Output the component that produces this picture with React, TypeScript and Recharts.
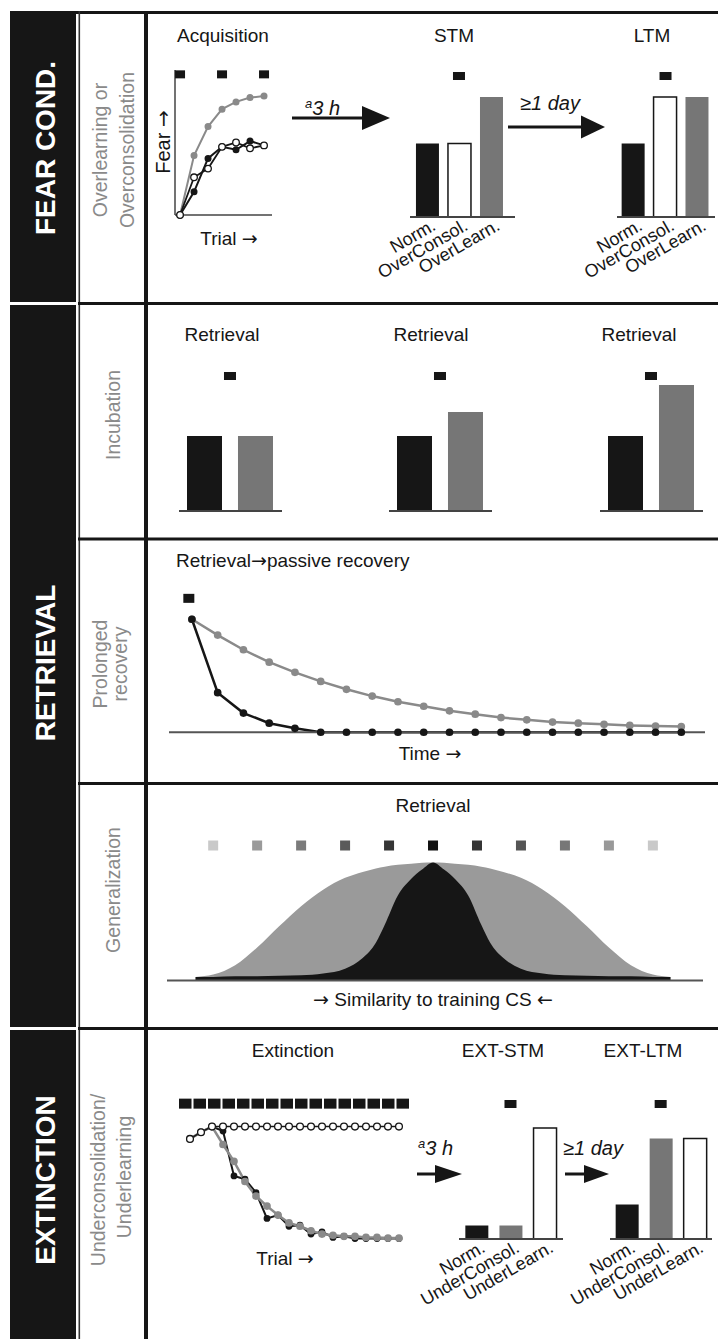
import React from "react";
import {
  ComposedChart,
  Line,
  Bar,
  Cell,
  Area,
  Scatter,
  XAxis,
  YAxis,
  ReferenceDot,
  ReferenceLine,
} from "recharts";

const FONT = "'Liberation Sans', Arial, Helvetica, sans-serif";
const ARROW_FONT = "'DejaVu Sans', sans-serif";
const INK = "#161616";
const GREY_LINE = "#8a8a8a";
const GREY_BAR = "#767676";
const GREY_AREA = "#9a9a9a";
const LABEL_GREY = "#8a8a8a";
const WHITE = "#ffffff";

// --- fear conditioning: acquisition curves
const acqTrials = [0, 1, 2, 3, 4, 5, 6];
const acqNorm = [0, 16, 39, 47, 45, 51, 48];
const acqOverConsol = [0, 26, 32, 47, 50, 46, 48];
const acqOverLearn = [0, 41, 61, 73, 78, 81, 82];
const acqCSTrials = [0, 3, 6];

// --- STM / LTM tests
const overGroups = ["Norm.", "OverConsol.", "OverLearn."];
const overColors = [INK, WHITE, GREY_BAR];
const stmValues = [49, 49, 80];
const ltmValues = [49, 80, 80];

// --- incubation
const incubColors = [INK, GREY_BAR];
const incubRet1 = [50, 50];
const incubRet2 = [50, 66];
const incubRet3 = [50, 84];

// --- prolonged recovery
const recoveryTime = [0, 1, 2, 3, 4, 5, 6, 7, 8, 9, 10, 11, 12, 13, 14, 15, 16, 17, 18, 19];
const recoveryNorm = [100, 35, 17, 8, 3.5, 0, 0, 0, 0, 0, 0, 0, 0, 0, 0, 0, 0, 0, 0, 0];
const recoveryProlonged = [100, 86, 73, 62, 53, 45, 38, 32, 27, 23, 19, 16, 13, 11, 9, 8, 7, 6, 5.5, 5];

// --- generalization
const simX = [-5.4, -5, -4.5, -4, -3.5, -3, -2.5, -2, -1.6, -1.3, -1.1, -0.8, -0.5, -0.25, 0,
  0.25, 0.5, 0.8, 1.1, 1.3, 1.6, 2, 2.5, 3, 3.5, 4, 4.5, 5, 5.4];
const genBroad = [0.03, 0.05, 0.13, 0.28, 0.46, 0.63, 0.77, 0.87, 0.92, 0.95, 0.965, 0.98, 0.99, 0.997, 1,
  0.997, 0.99, 0.98, 0.965, 0.95, 0.92, 0.87, 0.77, 0.63, 0.46, 0.28, 0.13, 0.05, 0.03];
const genNarrow = [0.03, 0.03, 0.035, 0.035, 0.04, 0.045, 0.06, 0.1, 0.19, 0.32, 0.47, 0.72, 0.86, 0.94, 1,
  0.94, 0.86, 0.72, 0.47, 0.32, 0.19, 0.1, 0.06, 0.045, 0.04, 0.035, 0.035, 0.03, 0.03];
const genCSPos = [-5, -4, -3, -2, -1, 0, 1, 2, 3, 4, 5];
const genCSShade = ["#c9c9c9", "#9a9a9a", "#7b7b7b", "#5a5a5a", "#353535", "#111111",
  "#353535", "#555555", "#777777", "#999999", "#c9c9c9"];

// --- extinction
const extTrials = [0, 1, 2, 3, 4, 5, 6, 7, 8, 9, 10, 11, 12, 13, 14, 15, 16, 17, 18, 19];
const extNorm = [89, 95, 100, 96, 56, 53, 41, 18, 21, 11, 12, 4, 6, 1, 2, 0, 0, 0, 0, 0];
const extUnderConsol = [89, 95, 100, 84, 69, 51, 38, 29, 21, 14, 11, 7, 4, 3, 2, 2, 1, 1, 0.5, 0.5];
const extUnderLearn = [89, 95, 100, 100, 100, 100, 100, 100, 100, 100, 100, 100, 100, 100, 100, 100, 100, 100, 100, 100];
const extTickTrials = [0, 2, 4, 6, 8, 10, 12, 14, 16, 18];
const extCSTrials = [0, 1, 2, 3, 4, 5, 6, 7, 8, 9, 10, 11, 12, 13, 14, 15];
const underGroups = ["Norm.", "UnderConsol.", "UnderLearn."];
const underColors = [INK, GREY_BAR, WHITE];
const extStmValues = [9, 9, 74];
const extLtmValues = [23, 67, 67];

type Pad = { l: number; r: number; t: number; b: number };

// position a chart so that its plot area lands on (left, top, w, h)
function frame(left: number, top: number, w: number, h: number, pad: Pad) {
  return {
    style: { position: "absolute" as const, left: left - pad.l, top: top - pad.t },
    width: w + pad.l + pad.r,
    height: h + pad.t + pad.b,
    margin: { top: pad.t, right: pad.r, left: pad.l, bottom: 0 },
    xh: pad.b,
  };
}

const csSquare = (w: number, h: number) => (p: any) => (
  <rect x={p.cx - w / 2} y={p.cy - h / 2} width={w} height={h} fill={p.payload?.shade ?? INK} />
);

const SlantTick = (props: any) => {
  const { x, y, payload, labels } = props;
  const label = labels[payload.value];
  if (!label) return null;
  const ax = x + 10;
  const ay = y + 12;
  return (
    <text x={ax} y={ay} transform={`rotate(-30 ${ax} ${ay})`} textAnchor="end"
      fontSize={18} fontFamily={FONT} fill={INK}>
      {label}
    </text>
  );
};

type BarsProps = {
  left: number;
  top: number;
  w: number;
  values: number[];
  colors: string[];
  labels?: string[];
  xDomain: [number, number];
  barSize: number;
  cs: number;
};

function GroupBars({ left, top, w, values, colors, labels, xDomain, barSize, cs }: BarsProps) {
  const f = frame(left, top, w, 150, { l: 90, r: 30, t: 20, b: labels ? 80 : 10 });
  const data = values.map((v, i) => ({ i, v }));
  const ticks = values.map((_, i) => i);
  return (
    <div style={f.style}>
      <ComposedChart width={f.width} height={f.height} margin={f.margin} data={data}>
        <XAxis type="number" dataKey="i" domain={xDomain} ticks={ticks} tickCount={values.length}
          interval={0} height={f.xh} axisLine={{ stroke: "#444", strokeWidth: 2 }}
          tickLine={false} tickSize={0} tickMargin={0}
          tick={labels ? (p: any) => <SlantTick {...p} labels={labels} /> : false} />
        <YAxis hide domain={[0, 100]} />
        <Bar dataKey="v" barSize={barSize} isAnimationActive={false}>
          {values.map((_, k) => (
            <Cell key={k} fill={colors[k]} stroke={colors[k] === WHITE ? INK : colors[k]}
              strokeWidth={colors[k] === WHITE ? 1.5 : 0} />
          ))}
        </Bar>
        <ReferenceDot x={(values.length - 1) / 2} y={cs} shape={csSquare(12, 8)} />
      </ComposedChart>
    </div>
  );
}

function Acquisition() {
  const f = frame(175, 70, 97, 145, { l: 10, r: 10, t: 10, b: 10 });
  const data = acqTrials.map((t, i) => ({ t, norm: acqNorm[i], oc: acqOverConsol[i], ol: acqOverLearn[i] }));
  const cs = acqCSTrials.map((t) => ({ t, y: 97 }));
  const xDomain: [number, number] = [-0.36, 6.57];
  return (
    <div style={f.style}>
      <ComposedChart width={f.width} height={f.height} margin={f.margin} data={data}>
        <XAxis type="number" dataKey="t" domain={xDomain} ticks={[0, 3, 6]} height={f.xh}
          axisLine={{ stroke: "#444", strokeWidth: 1.5 }} tickLine={{ stroke: "#444" }} tickSize={4} tick={false} />
        <YAxis hide domain={[0, 100]} />
        <ReferenceLine x={xDomain[0]} stroke="#444" strokeWidth={1.5} ifOverflow="visible" />
        <Line dataKey="ol" stroke={GREY_LINE} strokeWidth={2} isAnimationActive={false}
          dot={{ r: 2.5, fill: GREY_LINE, stroke: GREY_LINE }} />
        <Line dataKey="norm" stroke={INK} strokeWidth={2} isAnimationActive={false}
          dot={{ r: 2.5, fill: INK, stroke: INK }} />
        <Line dataKey="oc" stroke={INK} strokeWidth={1.8} isAnimationActive={false}
          dot={{ r: 3.3, fill: WHITE, stroke: INK, strokeWidth: 1.3 }} />
        <Scatter data={cs} dataKey="y" isAnimationActive={false} shape={csSquare(10, 8)} />
      </ComposedChart>
    </div>
  );
}

function Recovery() {
  const f = frame(169, 590.75, 536, 141.25, { l: 10, r: 10, t: 10, b: 10 });
  const data = recoveryTime.map((t, i) => ({ t, norm: recoveryNorm[i], pro: recoveryProlonged[i] }));
  return (
    <div style={f.style}>
      <ComposedChart width={f.width} height={f.height} margin={f.margin} data={data}>
        <XAxis type="number" dataKey="t" domain={[-0.89, 19.92]} ticks={[0]} height={f.xh}
          axisLine={{ stroke: "#555", strokeWidth: 2 }} tickLine={{ stroke: "#555" }} tickSize={5} tick={false} />
        <YAxis hide domain={[0, 125]} />
        <Line dataKey="pro" stroke={GREY_LINE} strokeWidth={2.5} isAnimationActive={false}
          dot={{ r: 2.6, fill: GREY_LINE, stroke: GREY_LINE }} />
        <Line dataKey="norm" stroke={INK} strokeWidth={2.5} isAnimationActive={false}
          dot={{ r: 2.6, fill: INK, stroke: INK }} />
        <Scatter data={[{ t: -0.12, y: 118.5 }]} dataKey="y" isAnimationActive={false} shape={csSquare(11, 9)} />
      </ComposedChart>
    </div>
  );
}

function Generalization() {
  const f = frame(167, 832.5, 536, 147.5, { l: 10, r: 10, t: 10, b: 10 });
  const data = simX.map((s, i) => ({ s, broad: genBroad[i], narrow: genNarrow[i] }));
  const cs = genCSPos.map((s, i) => ({ s, y: 1.144, shade: genCSShade[i] }));
  return (
    <div style={f.style}>
      <ComposedChart width={f.width} height={f.height} margin={f.margin} data={data}>
        <XAxis type="number" dataKey="s" domain={[-6.05, 6.14]} ticks={[0]} height={f.xh}
          axisLine={{ stroke: "#555", strokeWidth: 2 }} tickLine={{ stroke: "#555" }} tickSize={5} tick={false} />
        <YAxis hide domain={[0, 1.25]} />
        <Area type="monotone" dataKey="broad" fill={GREY_AREA} fillOpacity={1} stroke="none"
          isAnimationActive={false} dot={false} activeDot={false} />
        <Area type="monotone" dataKey="narrow" fill={INK} fillOpacity={1} stroke="none"
          isAnimationActive={false} dot={false} activeDot={false} />
        <Scatter data={cs} dataKey="y" isAnimationActive={false} shape={csSquare(10, 10)} />
      </ComposedChart>
    </div>
  );
}

function Extinction() {
  const f = frame(178, 1093.4, 232, 145.6, { l: 10, r: 10, t: 10, b: 10 });
  const data = extTrials.map((t, i) => ({ t, norm: extNorm[i], uc: extUnderConsol[i], ul: extUnderLearn[i] }));
  const cs = extCSTrials.map((k) => ({ k: k + 0.5, y: 120.5 }));
  return (
    <div style={f.style}>
      <ComposedChart width={f.width} height={f.height} margin={f.margin} data={data}>
        <XAxis xAxisId="t" type="number" dataKey="t" domain={[-1.09, 20]} ticks={extTickTrials} height={f.xh}
          axisLine={{ stroke: "#555", strokeWidth: 2 }} tickLine={{ stroke: "#555" }} tickSize={4} tick={false} />
        <XAxis xAxisId="cs" type="number" dataKey="k" domain={[0, 16]} hide />
        <YAxis hide domain={[0, 130]} />
        <Line xAxisId="t" dataKey="norm" stroke={INK} strokeWidth={2} isAnimationActive={false}
          dot={{ r: 2.4, fill: INK, stroke: INK }} />
        <Line xAxisId="t" dataKey="uc" stroke={GREY_LINE} strokeWidth={2.5} isAnimationActive={false}
          dot={{ r: 2.6, fill: GREY_LINE, stroke: GREY_LINE }} />
        <Line xAxisId="t" dataKey="ul" stroke={INK} strokeWidth={1.5} isAnimationActive={false}
          dot={{ r: 3.4, fill: WHITE, stroke: INK, strokeWidth: 1.3 }} />
        <Scatter xAxisId="cs" data={cs} dataKey="y" isAnimationActive={false} shape={csSquare(12.5, 10)} />
      </ComposedChart>
    </div>
  );
}

type TxtProps = {
  x: number;
  y: number;
  children: React.ReactNode;
  size?: number;
  anchor?: "start" | "middle" | "end";
  fill?: string;
  rotate?: boolean;
  bold?: boolean;
  italic?: boolean;
};

const Txt = ({ x, y, children, size = 19, anchor = "middle", fill = INK, rotate, bold, italic }: TxtProps) => (
  <text x={x} y={y} fontSize={size} textAnchor={anchor} fill={fill} fontFamily={FONT}
    fontWeight={bold ? 700 : 400} fontStyle={italic ? "italic" : "normal"}
    dominantBaseline={rotate ? "central" : "auto"}
    transform={rotate ? `rotate(-90 ${x} ${y})` : undefined}>
    {children}
  </text>
);

// arrows come from DejaVu, Liberation has no arrow glyphs
const R = () => <tspan fontFamily={ARROW_FONT}>→</tspan>;
const L = () => <tspan fontFamily={ARROW_FONT}>←</tspan>;

const Arrow = ({ x1, x2, y, head, half }: { x1: number; x2: number; y: number; head: number; half: number }) => (
  <g>
    <line x1={x1} y1={y} x2={x2 - head + 2} y2={y} stroke={INK} strokeWidth={3} />
    <polygon points={`${x2 - head},${y - half} ${x2},${y} ${x2 - head},${y + half}`} fill={INK} />
  </g>
);

const Delay = ({ x, y }: { x: number; y: number }) => (
  <text x={x} y={y} fontSize={20} fontStyle="italic" fontFamily={FONT} fill={INK}>
    <tspan fontSize={13} dy={-7}>a</tspan>
    <tspan dy={7}>3 h</tspan>
  </text>
);

function Decor() {
  return (
    <svg width={718} height={1339} style={{ position: "absolute", left: 0, top: 0 }}>
      {/* section blocks */}
      <rect x={10} y={11} width={66} height={291} fill={INK} />
      <rect x={10} y={305} width={66} height={722} fill={INK} />
      <rect x={10} y={1030} width={66} height={309} fill={INK} />
      <rect x={10} y={11} width={708} height={3} fill={INK} />
      <rect x={78.5} y={11} width={1.6} height={1328} fill="#333" />
      <rect x={144} y={11} width={4} height={1328} fill={INK} />
      <rect x={78} y={302} width={640} height={3} fill={INK} />
      <rect x={78} y={537.5} width={640} height={3} fill={INK} />
      <rect x={78} y={782} width={640} height={3} fill={INK} />
      <rect x={78} y={1027} width={640} height={3} fill={INK} />

      <Txt x={45} y={148} size={28} fill={WHITE} bold rotate>FEAR COND.</Txt>
      <Txt x={45} y={663} size={28} fill={WHITE} bold rotate>RETRIEVAL</Txt>
      <Txt x={45} y={1180} size={28} fill={WHITE} bold rotate>EXTINCTION</Txt>

      <Txt x={99.5} y={150} size={19.5} fill={LABEL_GREY} rotate>Overlearning or</Txt>
      <Txt x={126.5} y={150} size={19.5} fill={LABEL_GREY} rotate>Overconsolidation</Txt>
      <Txt x={113} y={415} size={19.5} fill={LABEL_GREY} rotate>Incubation</Txt>
      <Txt x={100} y={664} size={19.5} fill={LABEL_GREY} rotate>Prolonged</Txt>
      <Txt x={120} y={664} size={19.5} fill={LABEL_GREY} rotate>recovery</Txt>
      <Txt x={113} y={890} size={19.5} fill={LABEL_GREY} rotate>Generalization</Txt>
      <Txt x={98} y={1180} size={19.5} fill={LABEL_GREY} rotate>Underconsolidation/</Txt>
      <Txt x={124} y={1177} size={19.5} fill={LABEL_GREY} rotate>Underlearning</Txt>

      <Txt x={223} y={42}>Acquisition</Txt>
      <Txt x={454} y={42}>STM</Txt>
      <Txt x={652} y={42}>LTM</Txt>
      <Txt x={163} y={142} size={20} rotate>Fear <R /></Txt>
      <Txt x={229} y={245} size={19}>Trial <R /></Txt>
      <Delay x={305} y={115} />
      <Arrow x1={292} x2={390} y={118} head={28} half={12} />
      <Txt x={520} y={110} size={20} anchor="start" italic>≥1 day</Txt>
      <Arrow x1={508} x2={605} y={127} head={24} half={11.5} />

      <Txt x={222} y={341}>Retrieval</Txt>
      <Txt x={431} y={341}>Retrieval</Txt>
      <Txt x={639} y={341}>Retrieval</Txt>

      <Txt x={176} y={567} anchor="start">Retrieval<R />passive recovery</Txt>
      <Txt x={430} y={760} size={19}>Time <R /></Txt>

      <Txt x={433} y={812}>Retrieval</Txt>
      <Txt x={433} y={1006}><R /> Similarity to training CS <L /></Txt>

      <Txt x={293} y={1057}>Extinction</Txt>
      <Txt x={503} y={1057}>EXT-STM</Txt>
      <Txt x={643} y={1057}>EXT-LTM</Txt>
      <Txt x={285} y={1265} size={19}>Trial <R /></Txt>
      <Delay x={418} y={1155} />
      <Arrow x1={417} x2={462} y={1174} head={27} half={9} />
      <Txt x={563} y={1155} size={20} anchor="start" italic>≥1 day</Txt>
      <Arrow x1={565} x2={609} y={1174} head={25} half={9} />
    </svg>
  );
}

export default function App() {
  return (
    <div style={{ position: "absolute", left: 0, top: 0, width: 718, height: 1339, background: WHITE, fontFamily: FONT, overflow: "hidden" }}>
      <Decor />
      <Acquisition />
      <GroupBars left={410} top={67} w={105} values={stmValues} colors={overColors} labels={overGroups}
        xDomain={[-0.53, 2.75]} barSize={23} cs={94} />
      <GroupBars left={617} top={67} w={98} values={ltmValues} colors={overColors} labels={overGroups}
        xDomain={[-0.52, 2.55]} barSize={23} cs={94} />

      <GroupBars left={179} top={361} w={103} values={incubRet1} colors={incubColors}
        xDomain={[-0.5, 1.52]} barSize={35} cs={90} />
      <GroupBars left={389} top={361} w={103} values={incubRet2} colors={incubColors}
        xDomain={[-0.5, 1.52]} barSize={35} cs={90} />
      <GroupBars left={600} top={361} w={103} values={incubRet3} colors={incubColors}
        xDomain={[-0.5, 1.52]} barSize={35} cs={90} />

      <Recovery />
      <Generalization />

      <Extinction />
      <GroupBars left={459} top={1089} w={104} values={extStmValues} colors={underColors} labels={underGroups}
        xDomain={[-0.51, 2.54]} barSize={23} cs={90} />
      <GroupBars left={610} top={1089} w={102} values={extLtmValues} colors={underColors} labels={underGroups}
        xDomain={[-0.49, 2.51]} barSize={23} cs={90} />
    </div>
  );
}
